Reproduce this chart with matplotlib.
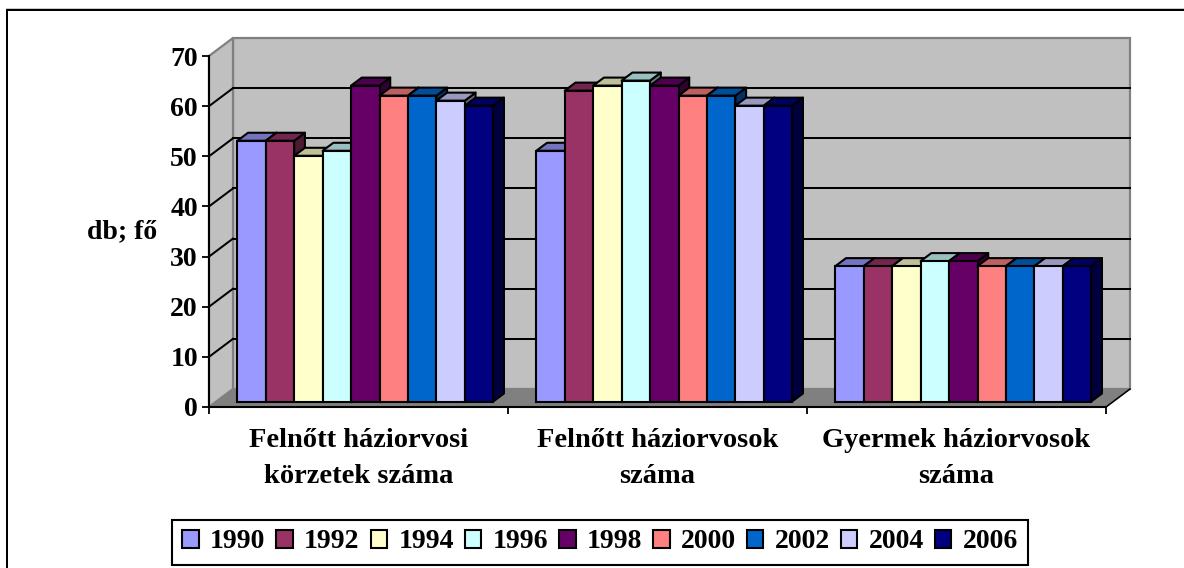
import matplotlib
matplotlib.use("Agg")
import matplotlib.pyplot as plt
from matplotlib.patches import Patch, Polygon, Rectangle
from matplotlib.transforms import Affine2D
from matplotlib.colors import to_rgb

plt.rcParams['font.family'] = ['Liberation Serif', 'DejaVu Serif']
plt.rcParams['font.weight'] = 'bold'

categories = ["Felnőtt háziorvosi\nkörzetek száma", "Felnőtt háziorvosok\nszáma", "Gyermek háziorvosok\nszáma"]
years = ["1990", "1992", "1994", "1996", "1998", "2000", "2002", "2004", "2006"]
felnott_korzetek = [52, 52, 49, 50, 63, 61, 61, 60, 59]
felnott_orvosok = [50, 62, 63, 64, 63, 61, 61, 59, 59]
gyermek_orvosok = [27, 27, 27, 28, 28, 27, 27, 27, 27]
series_by_category = [felnott_korzetek, felnott_orvosok, gyermek_orvosok]
colors = ["#9999FF", "#993366", "#FFFFCC", "#CCFFFF", "#660066", "#FF8080", "#0066CC", "#CCCCFF", "#000080"]
yticks = [0, 10, 20, 30, 40, 50, 60, 70]

W, H = 1184, 568
FS = 20
FS_CAT = 20.5
fig = plt.figure(figsize=(W / 100, H / 100), dpi=100, facecolor="white")
ax = fig.add_axes([209 / W, (H - 407) / H, 897 / W, 351 / H])
ax.set_xlim(0, len(categories))
ax.set_ylim(0, 70)
ax.patch.set_visible(False)


def shifted(dx, dy):
    return ax.transData + Affine2D().translate(dx, dy)


DX, DY = 24, 18
back = shifted(DX, DY)
xmax = len(categories)

# walls and floor
ax.add_patch(Polygon([(0, 0), (xmax, 0), (xmax, 70), (0, 70)], closed=True, transform=back,
                     fc="#C0C0C0", ec="#808080", lw=1.6, clip_on=False, zorder=1))
corner = ax.transData
left_pts = [corner.transform((0, 0)), corner.transform((0, 70)),
            back.transform((0, 70)), back.transform((0, 0))]
ax.add_patch(Polygon(left_pts, closed=True, transform=None, fc="#C0C0C0", ec="#808080",
                     lw=1.6, clip_on=False, zorder=1))
floor_pts = [corner.transform((0, 0)), corner.transform((xmax, 0)),
             back.transform((xmax, 0)), back.transform((0, 0))]
ax.add_patch(Polygon(floor_pts, closed=True, transform=None, fc="#808080", ec="#808080",
                     lw=1, clip_on=False, zorder=1))
ax.plot([corner.transform((xmax, 0))[0], back.transform((xmax, 0))[0]],
        [corner.transform((xmax, 0))[1], back.transform((xmax, 0))[1]],
        transform=None, color="black", lw=1.1, clip_on=False, zorder=1.5)

# gridlines
for t in yticks[1:-1]:
    ax.plot([0, xmax], [t, t], transform=back, color="black", lw=1.45, clip_on=False, zorder=2)
    p0, p1 = corner.transform((0, t)), back.transform((0, t))
    ax.plot([p0[0], p1[0]], [p0[1], p1[1]], transform=None, color="black", lw=1.45, clip_on=False, zorder=2)

# bars
FX, FY = 8, 5.5
BX, BY = 18.7, 13.5
bar_w = 0.0951
start = (1 - bar_w * len(years)) / 2 - 0.004
z = 3.0
LW = 1.5
for c, values in enumerate(series_by_category):
    for i, v in enumerate(values):
        x0 = c + start + i * bar_w
        x1 = x0 + bar_w
        col = to_rgb(colors[i])
        top_col = tuple(k * 0.75 for k in col)
        side_col = tuple(k * 0.5 for k in col)
        f = shifted(FX, FY)
        b = shifted(BX, BY)
        p = lambda tr, x, y: tuple(tr.transform((x, y)))
        ax.add_patch(Polygon([p(f, x1, 0), p(f, x1, v), p(b, x1, v), p(b, x1, 0)], closed=True, transform=None,
                             fc=side_col, ec="black", lw=LW, joinstyle="round", clip_on=False, zorder=z))
        ax.add_patch(Polygon([p(f, x0, v), p(f, x1, v), p(b, x1, v), p(b, x0, v)], closed=True, transform=None,
                             fc=top_col, ec="black", lw=LW, joinstyle="round", clip_on=False, zorder=z))
        ax.bar(x0, v, width=bar_w, align="edge", color=colors[i], edgecolor="black", linewidth=LW,
               transform=f, clip_on=False, zorder=z + 0.1)
        z += 0.2

# axes
for s in ("top", "right"):
    ax.spines[s].set_visible(False)
for s in ("left", "bottom"):
    ax.spines[s].set_linewidth(1.5)
    ax.spines[s].set_color("black")
    ax.spines[s].set_zorder(50)
ax.set_yticks(yticks)
ax.set_yticklabels([str(t) for t in yticks], fontsize=FS, fontweight="bold")
ax.set_xticks(range(xmax + 1))
ax.set_xticklabels([])
ax.set_xticks([c + 0.5 for c in range(xmax)], minor=True)
ax.set_xticklabels(categories, minor=True, fontsize=FS_CAT, fontweight="bold", linespacing=1.57)
ax.tick_params(axis="x", which="minor", length=0, pad=15)
ax.tick_params(axis="x", which="major", length=5, width=1.3, color="black")
ax.tick_params(axis="y", length=5, width=1.3, color="black", pad=3)
ax.set_ylabel("db; fő", rotation=0, fontsize=FS, fontweight="bold", ha="center", va="center")
ax.yaxis.set_label_coords((122 - 209) / 897, (407 - 232) / 351)

# legend
handles = [Patch(facecolor=c, edgecolor="black", linewidth=1.5, label=y) for c, y in zip(colors, years)]
leg = fig.legend(handles=handles, loc="center", bbox_to_anchor=(600 / W, (H - 542) / H), ncols=len(years),
                 fontsize=FS, frameon=True, fancybox=False, edgecolor="black", facecolor="white",
                 framealpha=1, handlelength=0.6, handleheight=0.6, handletextpad=0.4, columnspacing=0.393,
                 borderpad=0.36, borderaxespad=0)
leg.get_frame().set_linewidth(1.5)

# chart area border (top and left only)
fig.add_artist(Rectangle((6 / W, 0), 2 / W, (H - 9) / H, transform=fig.transFigure, fc="black", ec="none"))
fig.add_artist(Rectangle((6 / W, (H - 11) / H), (W - 6) / W, 2 / H, transform=fig.transFigure, fc="black", ec="none"))
fig.add_artist(Rectangle((6 / W, (H - 9) / H), (W - 6) / W, 1 / H, transform=fig.transFigure, fc="#C8C8C8", ec="none"))

fig.savefig("out.png", dpi=100, facecolor="white")
